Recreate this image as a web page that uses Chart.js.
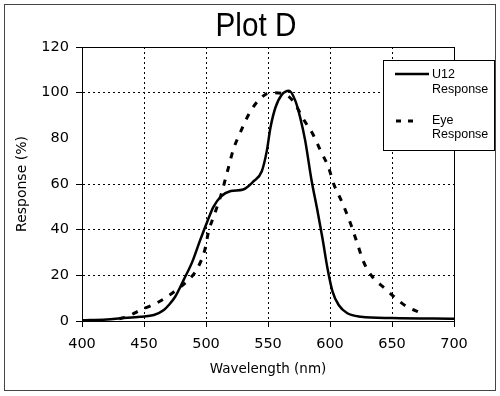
<!DOCTYPE html>
<html>
<head>
<meta charset="utf-8">
<script src="https://cdn.jsdelivr.net/npm/chart.js@4.4.0/dist/chart.umd.min.js"></script>
<style>
  html, body { margin: 0; padding: 0; background: #fff; }
  #wrap { width: 500px; height: 396px; }
</style>
</head>
<body>
<div id="wrap"><canvas id="plot" width="500" height="396"></canvas></div>
<script>
// ---------- data ----------
const titleText = "Plot D";
const xTitle = "Wavelength (nm)";
const yTitle = "Response (%)";
const xTicks = [400, 450, 500, 550, 600, 650, 700];
const yTicks = [0, 20, 40, 60, 80, 100, 120];

const u12Name = ["U12", "Response"];
const u12Wavelength = [400, 420, 431, 447, 458, 466, 470, 475, 482, 489, 495, 501, 506, 512, 520, 530, 538, 545, 549, 552, 556, 561, 567, 572, 576, 580, 585, 590, 594, 598, 602, 607, 614, 625, 650, 700];
const u12Response = [0.3, 0.7, 1.2, 1.9, 2.6, 4.8, 7, 10.5, 18, 26, 35, 43.5, 50, 54.5, 56.9, 57.6, 61, 65.6, 74.4, 84.7, 93.5, 99, 100.8, 96.5, 89, 79, 62, 48, 36, 23, 13, 7, 3.4, 1.9, 1.3, 1];

const eyeName = ["Eye", "Response"];
const eyeWavelength = [430, 437, 447, 457, 467, 478, 486, 493, 499, 502, 507, 512, 518, 522, 528, 535, 543, 552, 563, 570, 579, 586, 592, 599, 603, 610, 617, 622, 627, 634, 644, 653, 662, 673];
const eyeResponse = [1, 2, 4.8, 7, 10, 14.4, 18, 23, 31, 39, 47, 55, 67, 75, 83, 91, 97, 100, 99.4, 96.5, 88, 82, 75, 67, 60, 51.7, 42, 34, 26, 19.5, 14.4, 10, 6.3, 3.6];

const hiddenGrid = 80; // no gridline or tick mark on this one in the original

const toPoints = (xs, ys) => xs.map((x, i) => ({ x: x, y: ys[i] }));

// ---------- frame, title, border and legend ----------
const decor = {
  id: "decor",
  afterDatasetsDraw(chart) {
    const { ctx, chartArea: a } = chart;
    ctx.save();
    ctx.strokeStyle = "#000";
    ctx.lineWidth = 1;
    ctx.strokeRect(Math.round(a.left) + 0.5, Math.round(a.top) + 0.5, Math.round(a.right - a.left), Math.round(a.bottom - a.top));
    ctx.restore();
  },
  afterDraw(chart) {
    const { ctx } = chart;
    ctx.save();
    // outer frame
    ctx.strokeStyle = "#444";
    ctx.lineWidth = 1;
    ctx.strokeRect(4.5, 4.5, 491, 386);

    // title, squeezed like the narrow face of the original
    ctx.save();
    ctx.fillStyle = "#000";
    ctx.font = '33px "Liberation Sans", Arial, sans-serif';
    ctx.textAlign = "center";
    ctx.textBaseline = "middle";
    ctx.translate(256, 27);
    ctx.scale(0.9, 1);
    ctx.fillText(titleText, 0, 0);
    ctx.restore();

    // legend box
    ctx.fillStyle = "#fff";
    ctx.fillRect(383.5, 60.5, 111, 90);
    ctx.strokeStyle = "#000";
    ctx.strokeRect(383.5, 60.5, 111, 90);

    ctx.lineWidth = 2.5;
    ctx.beginPath();
    ctx.moveTo(395, 74);
    ctx.lineTo(429, 74);
    ctx.stroke();

    ctx.lineWidth = 3;
    ctx.setLineDash([5, 7]);
    ctx.beginPath();
    ctx.moveTo(396, 121);
    ctx.lineTo(414, 121);
    ctx.stroke();
    ctx.setLineDash([]);

    ctx.fillStyle = "#000";
    ctx.font = '12.5px "Liberation Sans", Arial, sans-serif';
    ctx.textAlign = "left";
    ctx.textBaseline = "middle";
    ctx.fillText(u12Name[0], 432, 75);
    ctx.fillText(u12Name[1], 432, 90);
    ctx.fillText(eyeName[0], 432, 121);
    ctx.fillText(eyeName[1], 432, 135);
    ctx.restore();
  },
};

const gridColor = (c) => (c.tick && c.tick.value === hiddenGrid ? "rgba(0,0,0,0)" : "#000");
const tickFont = { family: '"DejaVu Sans", sans-serif', size: 14.5 };
const titleFont = { family: '"DejaVu Sans", sans-serif', size: 13.5 };

new Chart(document.getElementById("plot"), {
  type: "line",
  data: {
    datasets: [
      {
        label: u12Name.join(" "),
        data: toPoints(u12Wavelength, u12Response),
        borderColor: "#000",
        borderWidth: 2.5,
        pointRadius: 0,
        cubicInterpolationMode: "monotone",
        fill: false,
      },
      {
        label: eyeName.join(" "),
        data: toPoints(eyeWavelength, eyeResponse),
        borderColor: "#000",
        borderWidth: 3,
        borderDash: [6, 8],
        pointRadius: 0,
        cubicInterpolationMode: "monotone",
        fill: false,
      },
    ],
  },
  options: {
    responsive: false,
    animation: false,
    events: [],
    layout: { padding: { top: 47, right: 46, bottom: 0, left: 0 } },
    plugins: { legend: { display: false }, title: { display: false }, tooltip: { enabled: false } },
    scales: {
      x: {
        type: "linear",
        min: xTicks[0],
        max: xTicks[xTicks.length - 1],
        afterBuildTicks: (s) => { s.ticks = xTicks.map((v) => ({ value: v })); },
        afterFit: (s) => { s.height = 75; },
        ticks: { color: "#000", font: tickFont, padding: 9, maxRotation: 0 },
        grid: { color: gridColor, tickColor: "#000", tickLength: 6, lineWidth: 1 },
        border: { color: "#000", width: 1, dash: [2, 3] },
        title: { display: true, text: xTitle, color: "#000", font: titleFont, padding: { top: 0, bottom: 18 } },
      },
      y: {
        type: "linear",
        min: yTicks[0],
        max: yTicks[yTicks.length - 1],
        afterBuildTicks: (s) => { s.ticks = yTicks.map((v) => ({ value: v })); },
        afterFit: (s) => { s.width = 82; },
        ticks: { color: "#000", font: tickFont, padding: 7 },
        grid: { color: gridColor, tickColor: gridColor, tickLength: 6, lineWidth: 1 },
        border: { color: "#000", width: 1, dash: [2, 3] },
        title: { display: true, text: yTitle, color: "#000", font: { family: '"DejaVu Sans", sans-serif', size: 14 }, padding: { top: 14, bottom: 0 } },
      },
    },
  },
  plugins: [decor],
});
</script>
</body>
</html>
